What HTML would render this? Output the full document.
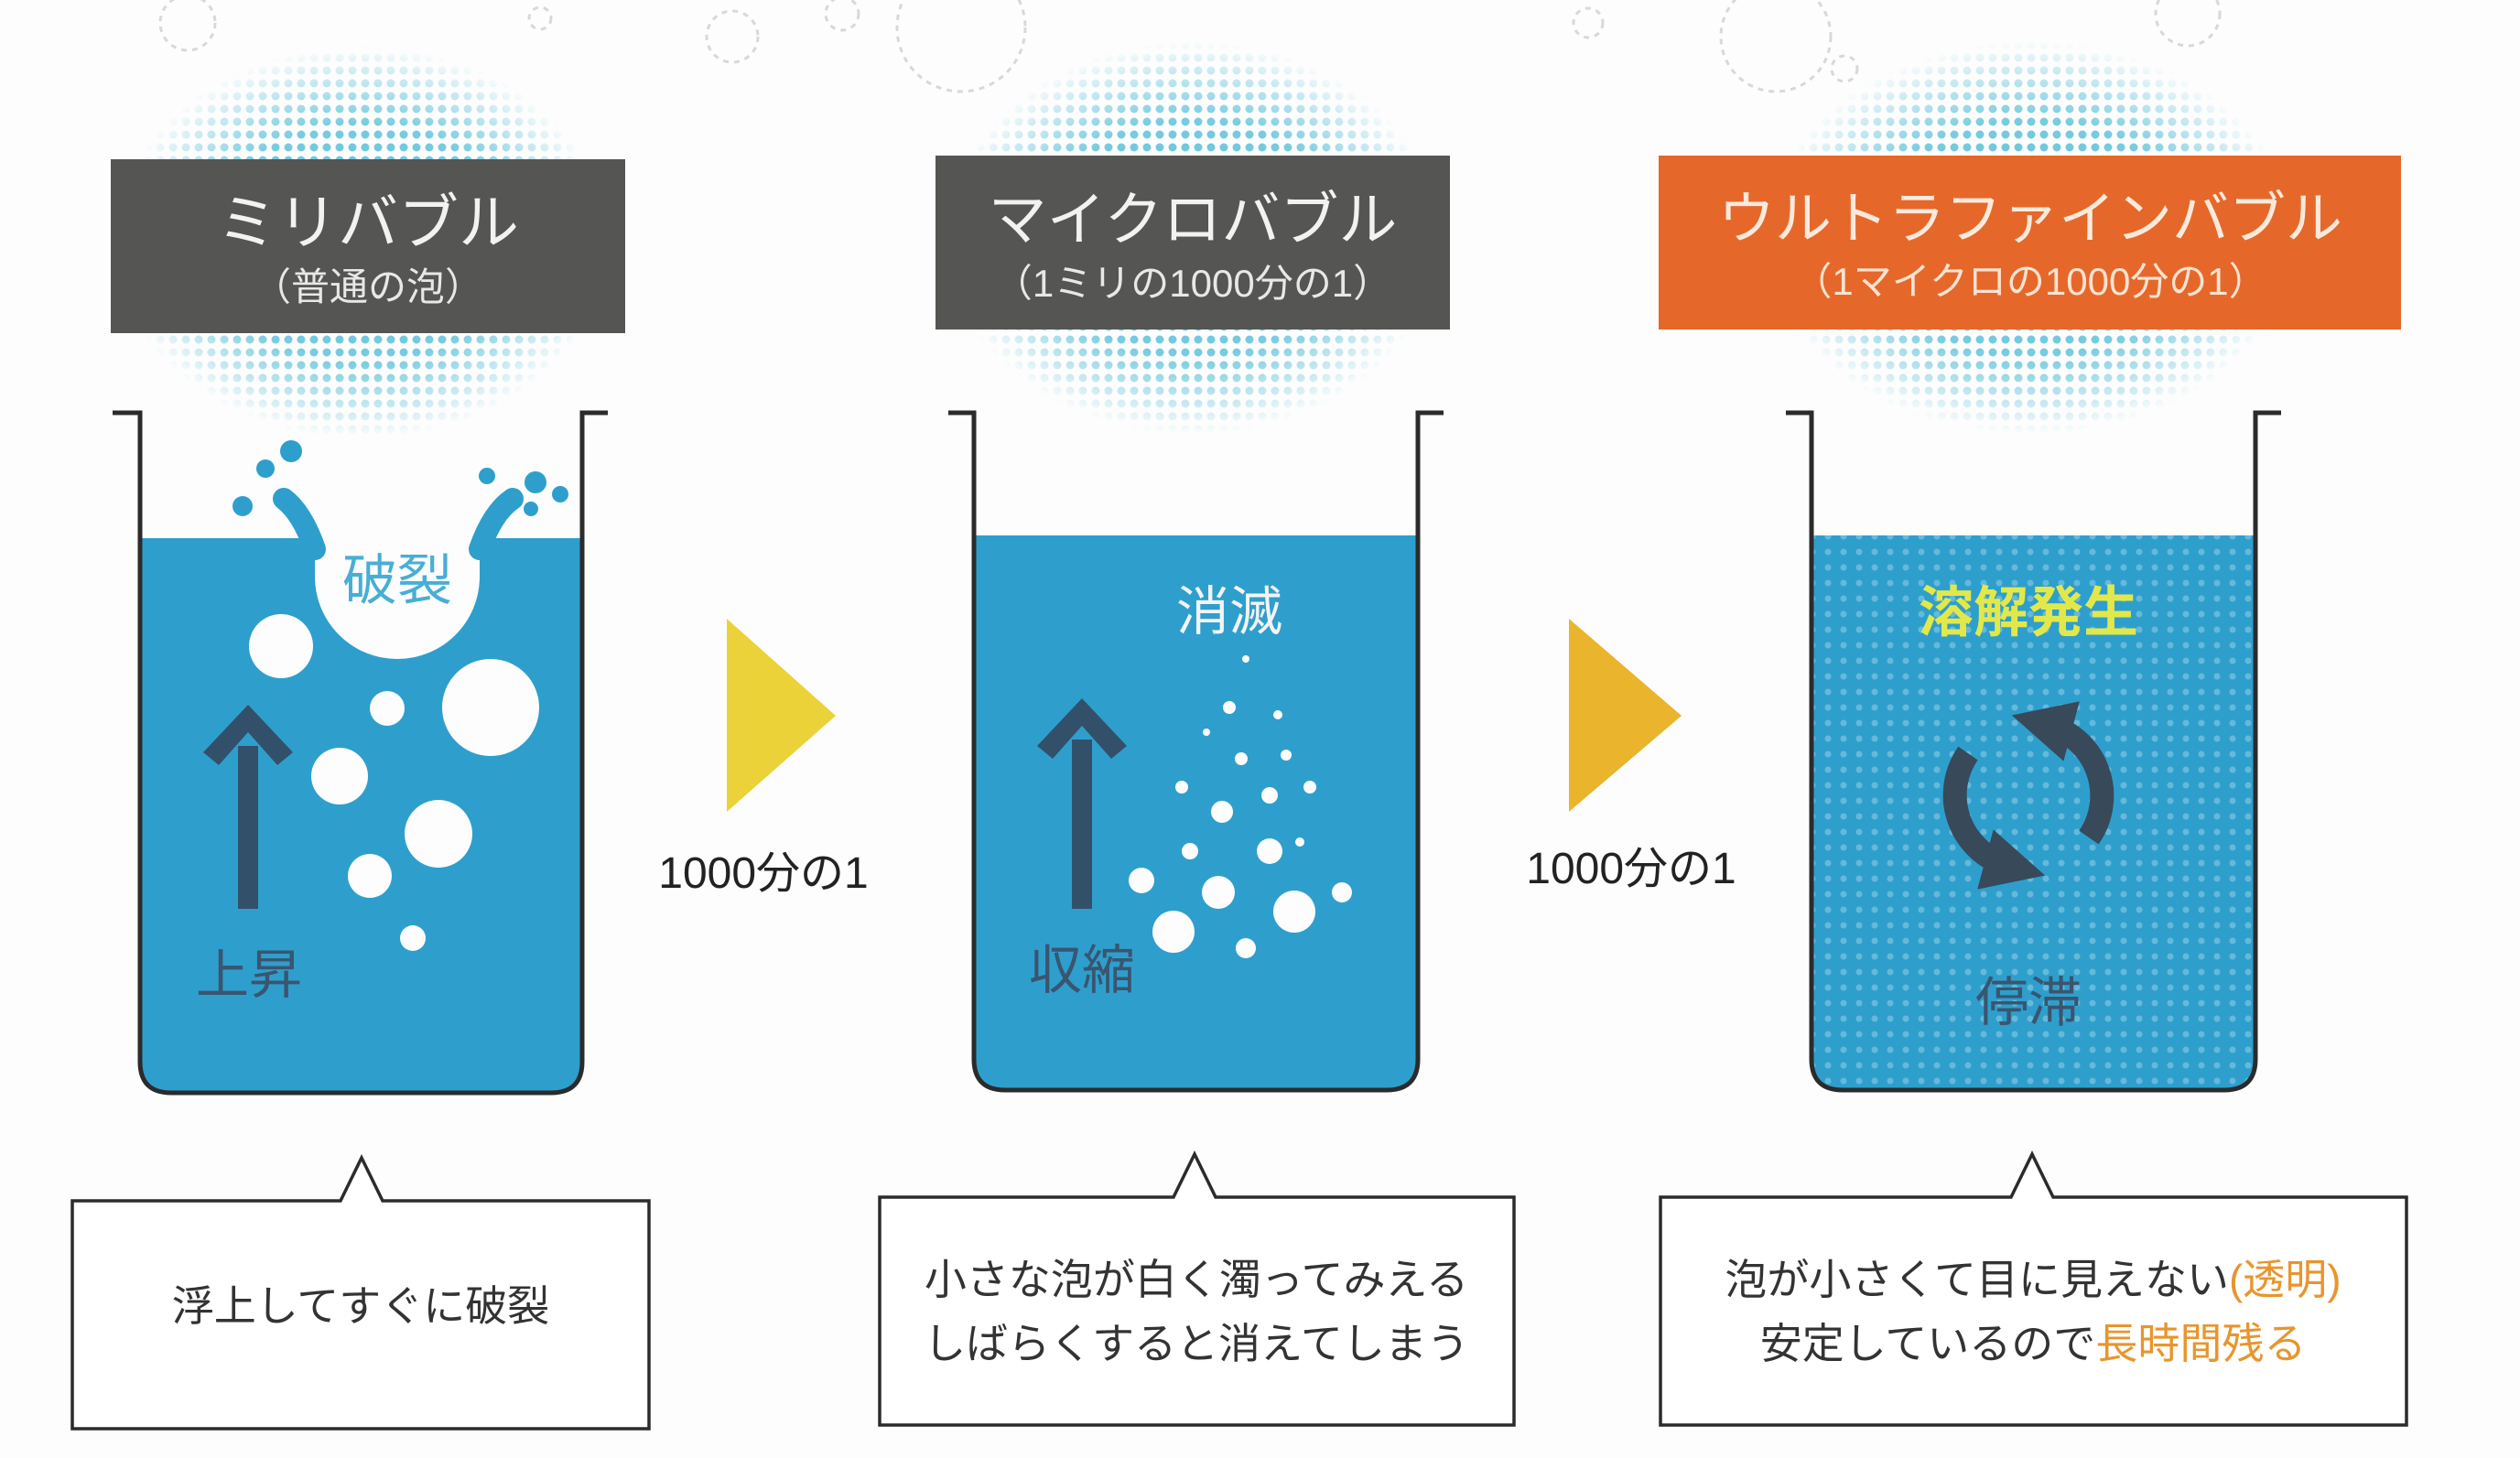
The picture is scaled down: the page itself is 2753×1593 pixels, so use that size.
<!DOCTYPE html>
<html><head><meta charset="utf-8"><style>
html,body{margin:0;padding:0;background:#fdfdfd;}
svg{display:block;}
text{font-family:"Liberation Sans","Noto Sans CJK JP",sans-serif;}
</style></head><body>
<svg width="2753" height="1593" viewBox="0 0 2753 1593" xmlns="http://www.w3.org/2000/svg">
<defs>
<pattern id="ht" width="14" height="14" patternUnits="userSpaceOnUse"><circle cx="7" cy="7" r="4.5" fill="#55bfd9"/></pattern>
<radialGradient id="fade"><stop offset="0" stop-color="#fff" stop-opacity="1"/><stop offset="0.6" stop-color="#fff" stop-opacity="0.8"/><stop offset="1" stop-color="#fff" stop-opacity="0"/></radialGradient>
<mask id="m1" maskContentUnits="objectBoundingBox"><rect width="1" height="1" fill="url(#fade)"/></mask>
<pattern id="wd" width="17" height="17" patternUnits="userSpaceOnUse"><circle cx="8" cy="8" r="3.5" fill="#7cc5e2" fill-opacity="0.7"/></pattern>
<marker id="ah" viewBox="0 0 10 10" refX="4" refY="5" markerWidth="2.6" markerHeight="2.6" orient="auto"><path d="M0,0 L10,5 L0,10 z" fill="#38495a"/></marker>
</defs>
<rect width="2753" height="1593" fill="#fdfdfd"/>
<g fill="none" stroke="#d8d8d8" stroke-width="3" stroke-dasharray="6 6">
<circle cx="205" cy="25" r="30"/><circle cx="800" cy="40" r="28"/><circle cx="920" cy="15" r="18"/><circle cx="590" cy="20" r="12"/>
<circle cx="1050" cy="30" r="70"/><circle cx="1940" cy="40" r="60"/><circle cx="1735" cy="25" r="16"/><circle cx="2390" cy="15" r="35"/><circle cx="2015" cy="75" r="14"/>
</g>
<ellipse cx="395" cy="265" rx="270" ry="215" fill="url(#ht)" mask="url(#m1)"/>
<ellipse cx="1303" cy="260" rx="270" ry="215" fill="url(#ht)" mask="url(#m1)"/>
<ellipse cx="2218" cy="260" rx="290" ry="215" fill="url(#ht)" mask="url(#m1)"/>
<rect x="121" y="174" width="562" height="190" fill="#555553"/>
<text x="402" y="266" font-size="66" fill="#f2f2f2" text-anchor="middle">ミリバブル</text>
<text x="402" y="328" font-size="42" fill="#e8e8e8" text-anchor="middle">（普通の泡）</text>
<rect x="1022" y="170" width="562" height="190" fill="#555553"/>
<text x="1303" y="262" font-size="64" fill="#f2f2f2" text-anchor="middle">マイクロバブル</text>
<text x="1303" y="324" font-size="42" fill="#e8e8e8" text-anchor="middle">（1ミリの1000分の1）</text>
<rect x="1812" y="170" width="811" height="190" fill="#e5682a"/>
<text x="2218" y="260" font-size="62" fill="#fbe9dc" text-anchor="middle">ウルトラファインバブル</text>
<text x="2218" y="322" font-size="42" fill="#fbe3d2" text-anchor="middle">（1マイクロの1000分の1）</text>
<!-- beaker 1 -->
<path d="M153 588 H636 V1160 Q636 1194 602 1194 H187 Q153 1194 153 1160 Z" fill="#2e9fcc"/>
<circle cx="434" cy="630" r="90" fill="#fdfdfd"/>
<rect x="344" y="586" width="180" height="46" fill="#fdfdfd"/>
<path d="M344 600 Q330 560 310 545" stroke="#2e9fcc" stroke-width="24" fill="none" stroke-linecap="round"/>
<path d="M524 600 Q538 560 560 545" stroke="#2e9fcc" stroke-width="24" fill="none" stroke-linecap="round"/>
<g fill="#2e9fcc"><circle cx="265" cy="553" r="11"/><circle cx="290" cy="512" r="10"/><circle cx="318" cy="493" r="12"/><circle cx="532" cy="520" r="9"/><circle cx="585" cy="527" r="12"/><circle cx="612" cy="540" r="9"/><circle cx="580" cy="556" r="8"/></g>
<text x="434" y="655" font-size="60" fill="#48aed5" text-anchor="middle">破裂</text>
<g fill="#fdfdfd"><circle cx="307" cy="706" r="35"/><circle cx="423" cy="774" r="19"/><circle cx="536" cy="773" r="53"/><circle cx="371" cy="848" r="31"/><circle cx="479" cy="911" r="37"/><circle cx="404" cy="957" r="24"/><circle cx="451" cy="1025" r="14"/></g>
<rect x="260" y="815" width="22" height="178" fill="#33506a"/>
<path d="M271 770 L320 822 L303 836 L271 800 L239 836 L222 822 Z" fill="#33506a"/>
<text x="272" y="1085" font-size="58" fill="#3a5570" text-anchor="middle">上昇</text>
<path d="M123 451 H153 V1160 Q153 1194 187 1194 H602 Q636 1194 636 1160 V451 H664" fill="none" stroke="#2b2b2b" stroke-width="5"/>
<!-- beaker 2 -->
<path d="M1064 585 H1549 V1157 Q1549 1191 1515 1191 H1098 Q1064 1191 1064 1157 Z" fill="#2e9fcc"/>
<text x="1343" y="688" font-size="58" fill="#f4f4f4" text-anchor="middle">消滅</text>
<g fill="#fdfdfd"><circle cx="1361" cy="720" r="4"/><circle cx="1343" cy="773" r="7"/><circle cx="1396" cy="781" r="5"/><circle cx="1356" cy="829" r="7"/><circle cx="1405" cy="825" r="6"/><circle cx="1291" cy="860" r="7"/><circle cx="1335" cy="887" r="12"/><circle cx="1387" cy="869" r="9"/><circle cx="1431" cy="860" r="7"/><circle cx="1300" cy="930" r="9"/><circle cx="1387" cy="930" r="14"/><circle cx="1247" cy="962" r="14"/><circle cx="1331" cy="975" r="18"/><circle cx="1414" cy="996" r="23"/><circle cx="1466" cy="975" r="11"/><circle cx="1282" cy="1018" r="23"/><circle cx="1361" cy="1036" r="11"/><circle cx="1420" cy="920" r="5"/><circle cx="1318" cy="800" r="4"/></g>
<rect x="1171" y="808" width="22" height="185" fill="#33506a"/>
<path d="M1182 763 L1231 815 L1214 829 L1182 793 L1150 829 L1133 815 Z" fill="#33506a"/>
<text x="1182" y="1080" font-size="58" fill="#3a5570" text-anchor="middle">収縮</text>
<path d="M1036 451 H1064 V1157 Q1064 1191 1098 1191 H1515 Q1549 1191 1549 1157 V451 H1577" fill="none" stroke="#2b2b2b" stroke-width="5"/>
<!-- beaker 3 -->
<path d="M1979 585 H2464 V1157 Q2464 1191 2430 1191 H2013 Q1979 1191 1979 1157 Z" fill="#2e9fcc"/>
<path d="M1979 585 H2464 V1157 Q2464 1191 2430 1191 H2013 Q1979 1191 1979 1157 Z" fill="url(#wd)"/>
<text x="2216" y="690" font-size="60" fill="#e2e84a" text-anchor="middle" font-weight="bold">溶解発生</text>
<path d="M2150 823 A80 80 0 0 0 2195 946" fill="none" stroke="#38495a" stroke-width="26" marker-end="url(#ah)"/>
<path d="M2282 915 A80 80 0 0 0 2237 792" fill="none" stroke="#38495a" stroke-width="26" marker-end="url(#ah)"/>
<text x="2216" y="1115" font-size="58" fill="#3a5570" text-anchor="middle">停滞</text>
<path d="M1951 451 H1979 V1157 Q1979 1191 2013 1191 H2430 Q2464 1191 2464 1157 V451 H2492" fill="none" stroke="#2b2b2b" stroke-width="5"/>
<!-- arrows -->
<path d="M794 676 L913 782 L794 887 Z" fill="#ecd239"/>
<path d="M1714 676 L1837 782 L1714 887 Z" fill="#eab52c"/>
<text x="834" y="970" font-size="48" fill="#222" text-anchor="middle">1000分の1</text>
<text x="1782" y="965" font-size="48" fill="#222" text-anchor="middle">1000分の1</text>
<!-- boxes -->
<path d="M79 1312 H372 L395 1265 L418 1312 H709 V1561 H79 Z" fill="#fff" stroke="#2b2b2b" stroke-width="3.5"/>
<text x="394" y="1443" font-size="46" fill="#333" text-anchor="middle">浮上してすぐに破裂</text>
<path d="M961 1308 H1282 L1305 1261 L1328 1308 H1654 V1557 H961 Z" fill="#fff" stroke="#2b2b2b" stroke-width="3.5"/>
<text x="1307" y="1414" font-size="46" fill="#333" text-anchor="middle">小さな泡が白く濁ってみえる</text>
<text x="1307" y="1484" font-size="46" fill="#333" text-anchor="middle">しばらくすると消えてしまう</text>
<path d="M1814 1308 H2197 L2220 1261 L2243 1308 H2629 V1557 H1814 Z" fill="#fff" stroke="#2b2b2b" stroke-width="3.5"/>
<text x="2221" y="1414" font-size="46" fill="#333" text-anchor="middle">泡が小さくて目に見えない<tspan fill="#e8952e">(透明)</tspan></text>
<text x="2221" y="1484" font-size="46" fill="#333" text-anchor="middle">安定しているので<tspan fill="#e8952e">長時間残る</tspan></text>
</svg>
</body></html>
